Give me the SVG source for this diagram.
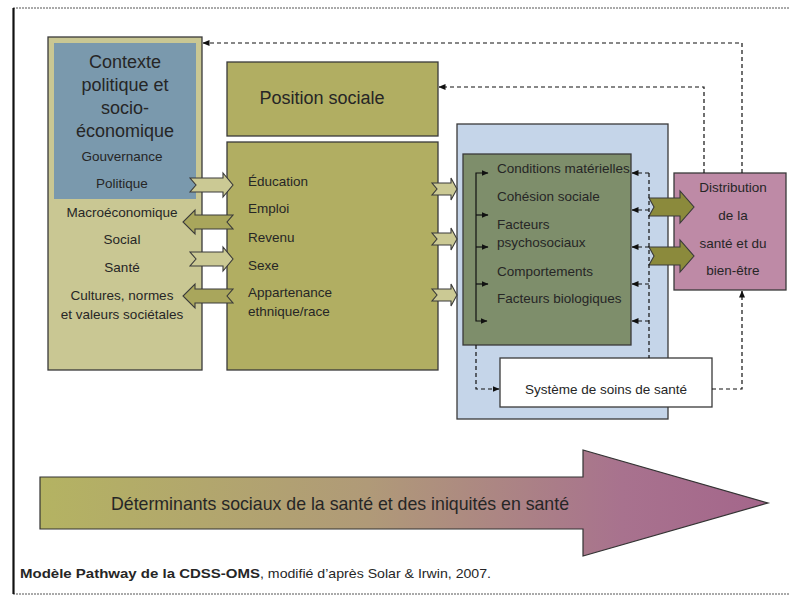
<svg xmlns="http://www.w3.org/2000/svg" width="790" height="597" viewBox="0 0 790 597">
<style>
  text { font-family: "Liberation Sans", Arial, sans-serif; fill: #262626; }
  .box { stroke: #3a3a3a; stroke-width: 1.3; }
  .s13 { font-size: 13.5px; }
  .mid { text-anchor: middle; }
  .dash { fill: none; stroke: #111; stroke-width: 1.2; stroke-dasharray: 4 3; }
  .solid { fill: none; stroke: #111; stroke-width: 1.2; }
  .arrL { fill: #cbc994; stroke: #3a3a3a; stroke-width: 1.1; }
  .arrD { fill: #a9a65c; stroke: #3a3a3a; stroke-width: 1.1; }
  .arrG { fill: #8b8a3c; stroke: #3a3a3a; stroke-width: 1.1; }
</style>
<defs>
  <marker id="ah" markerWidth="7" markerHeight="6" refX="6.5" refY="3" orient="auto" markerUnits="userSpaceOnUse">
    <path d="M0,0 L7,3 L0,6 Z" fill="#111"/>
  </marker>
  <linearGradient id="bigGrad" x1="40" y1="0" x2="768" y2="0" gradientUnits="userSpaceOnUse">
    <stop offset="0" stop-color="#b4b362"/>
    <stop offset="0.45" stop-color="#b09a78"/>
    <stop offset="0.8" stop-color="#a8728e"/>
    <stop offset="1" stop-color="#a4668b"/>
  </linearGradient>
</defs>
<rect width="790" height="597" fill="#ffffff"/>
<!-- frame -->
<g id="frame">
  <line x1="13" y1="8" x2="790" y2="8" stroke="#555" stroke-width="1" stroke-dasharray="2 1"/>
  <line x1="13" y1="594" x2="790" y2="594" stroke="#555" stroke-width="1" stroke-dasharray="2 1"/>
  <line x1="13.5" y1="8" x2="13.5" y2="594" stroke="#111" stroke-width="2.2"/>
</g>

<g id="contexte">
  <rect class="box" x="48" y="37" width="154" height="333" fill="#c9c793"/>
  <rect x="54" y="43" width="142" height="156" fill="#7a99ad"/>
  <text class="mid" x="125" y="68" font-size="18">Contexte</text>
  <text class="mid" x="125" y="91" font-size="18">politique et</text>
  <text class="mid" x="125" y="114" font-size="18">socio-</text>
  <text class="mid" x="125" y="137" font-size="18">économique</text>
  <text class="mid s13" x="122" y="161">Gouvernance</text>
  <text class="mid s13" x="122" y="188">Politique</text>
  <text class="mid s13" x="122" y="217">Macroéconomique</text>
  <text class="mid s13" x="122" y="244">Social</text>
  <text class="mid s13" x="122" y="272">Santé</text>
  <text class="mid s13" x="122" y="300">Cultures, normes</text>
  <text class="mid s13" x="122" y="319">et valeurs sociétales</text>
</g>

<g id="position-sociale">
  <rect class="box" x="227" y="62" width="211" height="74" fill="#b1ae62"/>
  <text class="mid" x="322" y="104" font-size="18">Position sociale</text>
</g>

<g id="stratification">
  <rect class="box" x="227" y="142" width="211" height="228" fill="#b1ae62"/>
  <text class="s13" x="248" y="186">Éducation</text>
  <text class="s13" x="248" y="213">Emploi</text>
  <text class="s13" x="248" y="242">Revenu</text>
  <text class="s13" x="248" y="270">Sexe</text>
  <text class="s13" x="248" y="297">Appartenance</text>
  <text class="s13" x="248" y="316">ethnique/race</text>
</g>

<g id="determinants-intermediaires">
  <rect class="box" x="457" y="124" width="211" height="295" fill="#c5d5e9"/>
  <rect class="box" x="463" y="154" width="168" height="191" fill="#7e8e6b"/>
  <text class="s13" x="497" y="173">Conditions matérielles</text>
  <text class="s13" x="497" y="201">Cohésion sociale</text>
  <text class="s13" x="497" y="229">Facteurs</text>
  <text class="s13" x="497" y="247">psychosociaux</text>
  <text class="s13" x="497" y="276">Comportements</text>
  <text class="s13" x="497" y="303">Facteurs biologiques</text>
</g>

<g id="systeme-soins">
  <rect class="box" x="500" y="358" width="212" height="49" fill="#ffffff"/>
  <text class="mid s13" x="606" y="394">Système de soins de santé</text>
</g>

<g id="distribution">
  <rect class="box" x="674" y="173" width="112" height="117" fill="#be8aa6"/>
  <text class="mid s13" x="733" y="192">Distribution</text>
  <text class="mid s13" x="733" y="220">de la</text>
  <text class="mid s13" x="733" y="248">santé et du</text>
  <text class="mid s13" x="733" y="275">bien-être</text>
</g>

<g id="connectors">
  <!-- block arrows contexte <-> stratification -->
  <polygon class="arrL" points="190,178 223,178 223,173 233,185 223,197 223,192 190,192 196,185"/>
  <polygon class="arrD" points="233,215 195,215 195,210 183,222 195,234 195,229 233,229 227,222"/>
  <polygon class="arrL" points="190,252 223,252 223,247 233,259 223,271 223,266 190,266 196,259"/>
  <polygon class="arrD" points="233,289 195,289 195,284 183,296 195,308 195,303 233,303 227,296"/>
  <!-- block arrows stratification -> intermediaires -->
  <polygon class="arrL" points="432,183 451,183 451,178 457,189 451,200 451,195 432,195 437,189"/>
  <polygon class="arrL" points="432,233 451,233 451,228 457,239 451,250 451,245 432,245 437,239"/>
  <polygon class="arrL" points="432,289 451,289 451,284 457,295 451,306 451,301 432,301 437,295"/>
  <!-- big arrows to distribution -->
  <polygon class="arrG" points="649,198 680,198 680,191 694,207 680,223 680,216 649,216 654,207"/>
  <polygon class="arrG" points="649,247 680,247 680,240 694,256 680,272 680,265 649,265 654,256"/>
  <!-- internal bracket -->
  <polyline class="solid" points="487,173 476,173 476,321 487,321" marker-end="url(#ah)"/>
  <line class="solid" x1="487" y1="173" x2="488" y2="173" marker-end="url(#ah)"/>
  <line class="solid" x1="476" y1="215" x2="488" y2="215" marker-end="url(#ah)"/>
  <line class="solid" x1="476" y1="247" x2="488" y2="247" marker-end="url(#ah)"/>
  <line class="solid" x1="476" y1="284" x2="488" y2="284" marker-end="url(#ah)"/>
  <!-- right dashed feedback -->
  <line class="dash" x1="649" y1="173" x2="649" y2="358"/>
  <line class="dash" x1="649" y1="173" x2="632" y2="173" marker-end="url(#ah)"/>
  <line class="dash" x1="649" y1="210" x2="632" y2="210" marker-end="url(#ah)"/>
  <line class="dash" x1="649" y1="247" x2="632" y2="247" marker-end="url(#ah)"/>
  <line class="dash" x1="649" y1="284" x2="632" y2="284" marker-end="url(#ah)"/>
  <line class="dash" x1="649" y1="321" x2="632" y2="321" marker-end="url(#ah)"/>
  <!-- to health system -->
  <polyline class="dash" points="476,345 476,389 499,389" marker-end="url(#ah)"/>
  <!-- health system to distribution -->
  <polyline class="dash" points="712,389 742,389 742,291" marker-end="url(#ah)"/>
  <!-- top feedback loops -->
  <polyline class="dash" points="742,173 742,43 203,43" marker-end="url(#ah)"/>
  <polyline class="dash" points="704,173 704,87 439,87" marker-end="url(#ah)"/>
</g>

<g id="big-arrow">
  <polygon points="40,477 583,477 583,450 768,503 583,556 583,529 40,529" fill="url(#bigGrad)" stroke="#333" stroke-width="1.2"/>
  <text x="111" y="510" font-size="19" textLength="458" lengthAdjust="spacingAndGlyphs">Déterminants sociaux de la santé et des iniquités en santé</text>
</g>

<g id="caption">
  <text x="20" y="578" font-size="13.5" font-weight="bold" textLength="240" lengthAdjust="spacingAndGlyphs" fill="#111">Modèle Pathway de la CDSS-OMS</text>
  <text x="260" y="578" font-size="13" textLength="231" lengthAdjust="spacingAndGlyphs">, modifié d’après Solar &amp; Irwin, 2007.</text>
</g>
</svg>
